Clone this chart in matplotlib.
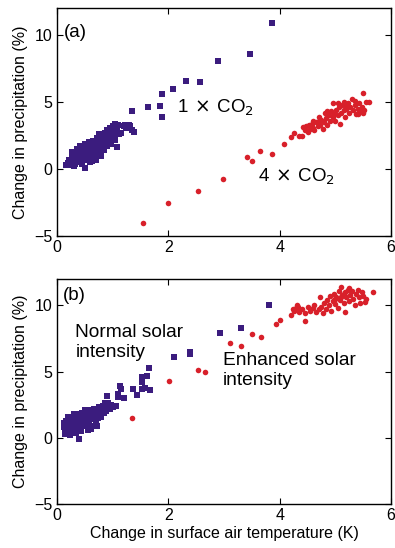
import numpy as np
import matplotlib.pyplot as plt

plt.rcParams['font.family'] = ['Liberation Sans', 'DejaVu Sans']

# ---- panel (a): 1 x CO2 (squares) and 4 x CO2 (circles)
a_co2x1_x = [3.86, 3.47, 2.89, 2.57, 2.32, 2.08, 1.89, 1.85, 1.89, 1.64, 1.34, 1.39, 1.30, 1.27, 1.08, 1.15, 0.50,
             0.17, 0.20, 0.22, 0.25, 0.27, 0.28, 0.30, 0.30, 0.32, 0.33, 0.35, 0.36, 0.38, 0.38, 0.40, 0.40, 0.42,
             0.43, 0.45, 0.45, 0.47, 0.48, 0.50, 0.50, 0.52, 0.53, 0.55, 0.55, 0.57, 0.58, 0.60, 0.60, 0.62, 0.63,
             0.65, 0.65, 0.67, 0.68, 0.70, 0.70, 0.72, 0.73, 0.75, 0.75, 0.77, 0.78, 0.80, 0.80, 0.82, 0.83, 0.85,
             0.85, 0.87, 0.88, 0.90, 0.90, 0.92, 0.93, 0.95, 0.95, 0.97, 0.98, 1.00, 1.00, 1.02, 1.03, 1.05, 1.05,
             1.08, 1.10, 1.12, 1.20, 1.22, 1.25, 1.28, 1.32, 1.35, 0.30, 0.25, 0.60, 0.45, 0.70, 0.55, 0.65, 0.35]
a_co2x1_y = [10.9, 8.55, 8.1, 6.5, 6.6, 6.0, 5.6, 4.7, 3.9, 4.6, 4.3, 2.8, 3.3, 3.2, 1.65, 2.7, 0.1,
             0.3, 0.45, 0.7, 0.5, 0.9, 1.3, 0.6, 1.0, 0.4, 1.2, 0.8, 1.5, 0.6, 1.1, 1.4, 0.9, 1.7,
             0.5, 1.2, 1.0, 1.6, 0.7, 1.3, 1.9, 1.1, 1.5, 0.8, 1.7, 1.3, 2.0, 1.0, 1.5, 1.8, 0.6,
             1.3, 2.1, 1.6, 1.0, 1.9, 1.4, 2.3, 1.2, 1.7, 2.6, 2.0, 1.5, 2.2, 1.0, 1.8, 2.5, 2.0,
             1.4, 2.7, 2.2, 1.7, 2.9, 2.4, 2.0, 2.7, 3.1, 2.3, 1.9, 2.8, 3.2, 2.5, 3.0, 3.4, 2.2,
             2.9, 3.3, 2.6, 3.2, 3.3, 3.1, 3.3, 3.2, 2.9, 0.2, 0.3, 0.5, 0.4, 0.7, 1.3, 1.6, 1.0]

a_co2x4_x = [1.55, 2.00, 2.53, 2.98, 3.41, 3.50, 3.64, 3.86, 4.07, 4.20, 4.26, 4.34,
             4.40, 4.42, 4.45, 4.48, 4.50, 4.52, 4.55, 4.58, 4.60, 4.62, 4.65, 4.68, 4.70, 4.72, 4.75,
             4.78, 4.80, 4.81, 4.83, 4.85, 4.88, 4.90, 4.92, 4.95, 4.96, 4.98, 5.00, 5.02, 5.05, 5.07,
             5.08, 5.10, 5.12, 5.15, 5.17, 5.20, 5.22, 5.25, 5.27, 5.30, 5.32, 5.35, 5.37, 5.40, 5.42,
             5.45, 5.47, 5.50, 5.50, 5.52, 5.55, 5.60, 5.35, 5.20, 4.85, 4.70, 5.05, 5.15, 5.40, 4.60]
a_co2x4_y = [-4.05, -2.5, -1.65, -0.7, 0.9, 0.6, 1.35, 1.1, 1.9, 2.4, 2.7, 2.5,
             2.5, 3.15, 2.9, 3.2, 2.8, 3.3, 3.0, 3.4, 3.1, 2.9, 3.5, 3.2, 3.6, 3.3, 3.7,
             3.0, 3.5, 4.15, 3.8, 3.3, 4.0, 3.6, 4.3, 3.9, 4.9, 4.1, 3.6, 4.4, 4.0, 4.6,
             3.4, 4.2, 4.8, 4.4, 3.9, 4.5, 4.9, 4.2, 4.6, 5.2, 4.4, 4.8, 4.1, 4.5, 4.9,
             4.3, 4.6, 5.7, 4.2, 4.4, 5.0, 5.0, 5.1, 4.7, 4.3, 3.9, 4.9, 5.0, 4.1, 3.6]

# ---- panel (b): normal (squares) and enhanced (circles) solar intensity
b_normal_x = [3.80, 3.31, 2.92, 2.39, 2.39, 2.11, 1.66, 1.62, 1.52, 1.52, 1.68, 1.58, 1.52, 1.37, 1.44, 1.21,
              1.13, 1.15, 1.09, 1.10, 0.90, 1.06, 0.92, 0.39,
              0.12, 0.13, 0.15, 0.16, 0.18, 0.19, 0.20, 0.21, 0.22, 0.23, 0.25, 0.25, 0.27, 0.28, 0.29, 0.30,
              0.31, 0.32, 0.33, 0.35, 0.36, 0.37, 0.38, 0.40, 0.41, 0.42, 0.43, 0.45, 0.46, 0.47, 0.48, 0.50,
              0.51, 0.52, 0.54, 0.55, 0.56, 0.58, 0.60, 0.61, 0.62, 0.63, 0.65, 0.66, 0.68, 0.70, 0.71, 0.73,
              0.75, 0.76, 0.78, 0.80, 0.82, 0.84, 0.85, 0.87, 0.88, 0.90, 0.92, 0.95, 0.98, 1.00, 0.14, 0.24,
              0.34, 0.44, 0.55, 0.65, 0.72, 0.20, 0.30, 0.50]
b_normal_y = [10.0, 8.3, 7.9, 6.5, 6.35, 6.1, 5.25, 4.7, 4.6, 4.25, 3.6, 3.8, 3.7, 3.7, 3.25, 3.0,
              3.9, 3.7, 3.3, 3.1, 3.2, 2.4, 2.6, -0.1,
              0.8, 1.1, 0.6, 1.3, 0.9, 0.4, 1.2, 0.7, 1.5, 1.0, 0.5, 1.3, 0.8, 1.6, 1.1, 0.6,
              1.4, 0.9, 1.7, 1.2, 0.7, 1.5, 1.0, 1.8, 1.3, 0.8, 1.6, 1.1, 1.9, 1.4, 0.9, 1.7,
              1.2, 2.0, 1.5, 1.0, 1.8, 1.3, 2.1, 1.6, 0.7, 1.9, 1.4, 2.2, 1.7, 1.2, 2.0, 1.5,
              2.3, 1.8, 2.1, 1.6, 2.4, 1.9, 2.2, 2.6, 2.0, 2.3, 2.6, 2.2, 2.5, 2.3, 0.3, 0.2,
              0.4, 0.5, 0.6, 0.9, 0.9, 1.6, 1.8, 2.1]

b_enhanced_x = [1.34, 2.02, 2.53, 2.66, 3.10, 3.30, 3.50, 3.67, 3.94, 4.00, 4.24, 4.31, 4.45,
                4.21, 4.25, 4.30, 4.33, 4.35, 4.40, 4.45, 4.50, 4.55, 4.60, 4.62, 4.65, 4.70, 4.72,
                4.75, 4.78, 4.80, 4.83, 4.85, 4.88, 4.90, 4.92, 4.95, 4.97, 5.00, 5.02, 5.05, 5.07,
                5.09, 5.11, 5.12, 5.15, 5.17, 5.18, 5.20, 5.22, 5.25, 5.27, 5.30, 5.32, 5.35, 5.37,
                5.40, 5.42, 5.45, 5.47, 5.50, 5.53, 5.55, 5.68, 5.00, 5.15, 5.25, 4.98, 5.10]
b_enhanced_y = [1.5, 4.3, 5.1, 5.0, 7.15, 6.95, 7.85, 7.65, 8.6, 8.9, 9.7, 10.0, 8.8,
                9.25, 9.6, 9.8, 9.9, 9.5, 9.7, 9.4, 9.9, 9.6, 9.8, 10.0, 9.5, 9.7, 10.6,
                9.9, 9.4, 10.2, 9.7, 10.4, 10.0, 10.7, 9.6, 10.3, 10.9, 10.1, 10.6, 9.8, 11.1,
                10.4, 11.4, 10.8, 10.2, 9.5, 11.0, 10.6, 11.2, 10.3, 10.8, 11.1, 10.5, 10.0, 10.9,
                11.2, 10.6, 10.2, 11.0, 10.7, 10.25, 10.5, 11.0, 10.5, 10.9, 11.3, 10.4, 10.6]

purple = '#3b1c7e'
red = '#d8202a'

fig = plt.figure(figsize=(3.95, 5.48), dpi=100)
ax1 = fig.add_axes([0.144, 0.569, 0.846, 0.416])
ax2 = fig.add_axes([0.144, 0.080, 0.846, 0.411])

def estilo(ax):
    ax.set_xlim(0, 6)
    ax.set_ylim(-5, 12)
    ax.set_xticks([0, 2, 4, 6])
    ax.set_yticks([-5, 0, 5, 10])
    ax.tick_params(direction='in', top=True, right=True, length=4, width=0.8, labelsize=11.5, pad=3)
    for s in ax.spines.values():
        s.set_linewidth(1.0)
    ax.set_ylabel('Change in precipitation (%)', fontsize=11.5, labelpad=5)

ax1.scatter(a_co2x1_x, a_co2x1_y, marker='s', s=15, c=purple, linewidths=0, zorder=3)
ax1.scatter(a_co2x4_x, a_co2x4_y, marker='o', s=16, c=red, linewidths=0, zorder=3)
estilo(ax1)
ax1.text(0.12, 10.2, '(a)', fontsize=13.5, va='center')
ax1.text(2.15, 4.6, r'1$\,\times\,$CO$_2$', fontsize=13.5, va='center')
ax1.text(3.62, -0.6, r'4$\,\times\,$CO$_2$', fontsize=13.5, va='center')

ax2.scatter(b_normal_x, b_normal_y, marker='s', s=15, c=purple, linewidths=0, zorder=3)
ax2.scatter(b_enhanced_x, b_enhanced_y, marker='o', s=16, c=red, linewidths=0, zorder=3)
estilo(ax2)
ax2.set_xlabel('Change in surface air temperature (K)', fontsize=11.5, labelpad=2)
ax2.text(0.1, 10.75, '(b)', fontsize=13.5, va='center')
ax2.text(0.33, 7.2, 'Normal solar\nintensity', fontsize=13.8, va='center', linespacing=1.2)
ax2.text(2.98, 5.1, 'Enhanced solar\nintensity', fontsize=13.8, va='center', linespacing=1.2)

fig.savefig('out.png', dpi=100)
